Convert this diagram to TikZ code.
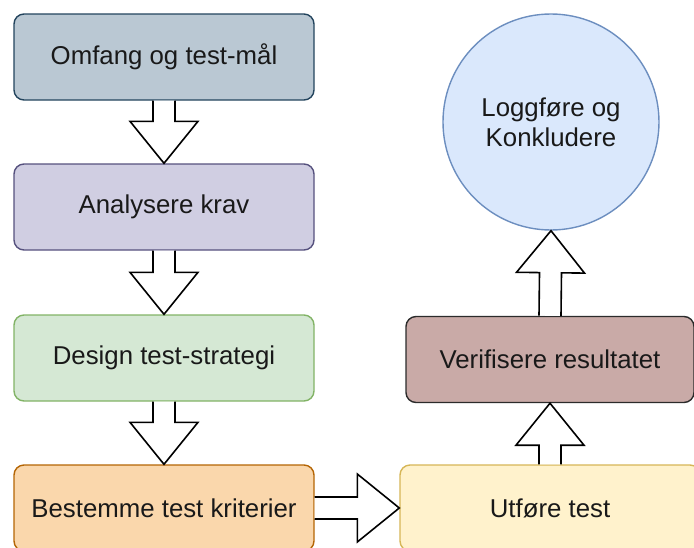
\documentclass[tikz,border=0pt]{standalone}
\usepackage{fontspec}
\setmainfont{Liberation Sans}
\usetikzlibrary{calc}

\definecolor{scopeFill}{HTML}{BAC8D3}\definecolor{scopeLine}{HTML}{23445D}
\definecolor{reqFill}{HTML}{D0CEE2}\definecolor{reqLine}{HTML}{56517E}
\definecolor{stratFill}{HTML}{D5E8D4}\definecolor{stratLine}{HTML}{82B366}
\definecolor{critFill}{HTML}{FAD7AC}\definecolor{critLine}{HTML}{B46504}
\definecolor{runFill}{HTML}{FFF2CC}\definecolor{runLine}{HTML}{D6B656}
\definecolor{verFill}{HTML}{C9AAA7}\definecolor{verLine}{HTML}{2B2B2B}
\definecolor{logFill}{HTML}{DAE8FC}\definecolor{logLine}{HTML}{6C8EBF}

\tikzset{
  stepbox/.style={rectangle, rounded corners=10pt, minimum width=300pt,
    minimum height=86pt, inner sep=0pt, line width=1.4pt,
    font=\fontsize{25.8}{30}\selectfont, text=black!90},
  endcircle/.style={circle, minimum size=216pt, inner sep=0pt, line width=1.4pt,
    align=center, font=\fontsize{25.8}{30}\selectfont, text=black!90},
  blockarrow/.style={fill=white, draw=black, line width=1.6pt, line join=miter}
}

% hollow block arrow from #1 to #2 (shaft 22pt wide, head 68pt wide, 42pt long)
\newcommand\hollowarrow[2]{%
  \path (#1) coordinate (ha-s) (#2) coordinate (ha-t);
  \path ($(ha-t)!42pt!(ha-s)$) coordinate (ha-h);
  \path[blockarrow]
    ($(ha-s)!11pt!90:(ha-t)$) -- ($(ha-h)!11pt!90:(ha-t)$)
    -- ($(ha-h)!34pt!90:(ha-t)$) -- (ha-t)
    -- ($(ha-h)!34pt!-90:(ha-t)$) -- ($(ha-h)!11pt!-90:(ha-t)$)
    -- ($(ha-s)!11pt!-90:(ha-t)$);
}

\begin{document}
\begin{tikzpicture}[x=1pt,y=-1pt]
\useasboundingbox (0,0) rectangle (694,547);

\node[stepbox, fill=scopeFill, draw=scopeLine] (scope) at (164,57) {Omfang og test-mål};
\node[stepbox, fill=reqFill, draw=reqLine] (req) at (164,207) {Analysere krav};
\node[stepbox, fill=stratFill, draw=stratLine] (strat) at (164,358) {Design test-strategi};
\node[stepbox, fill=critFill, draw=critLine] (crit) at (164,508) {Bestemme test kriterier};
\node[stepbox, fill=runFill, draw=runLine] (run) at (550,508) {Utføre test};
\node[stepbox, minimum width=288pt, fill=verFill, draw=verLine] (verify) at (550,359.5) {Verifisere resultatet};
\node[endcircle, fill=logFill, draw=logLine] (log) at (551,122) {Loggføre og\\Konkludere};

\hollowarrow{scope.south}{req.north}
\hollowarrow{req.south}{strat.north}
\hollowarrow{strat.south}{crit.north}
\hollowarrow{crit.east}{run.west}
\hollowarrow{run.north}{verify.south}
\hollowarrow{verify.north}{log.south}
\end{tikzpicture}
\end{document}
